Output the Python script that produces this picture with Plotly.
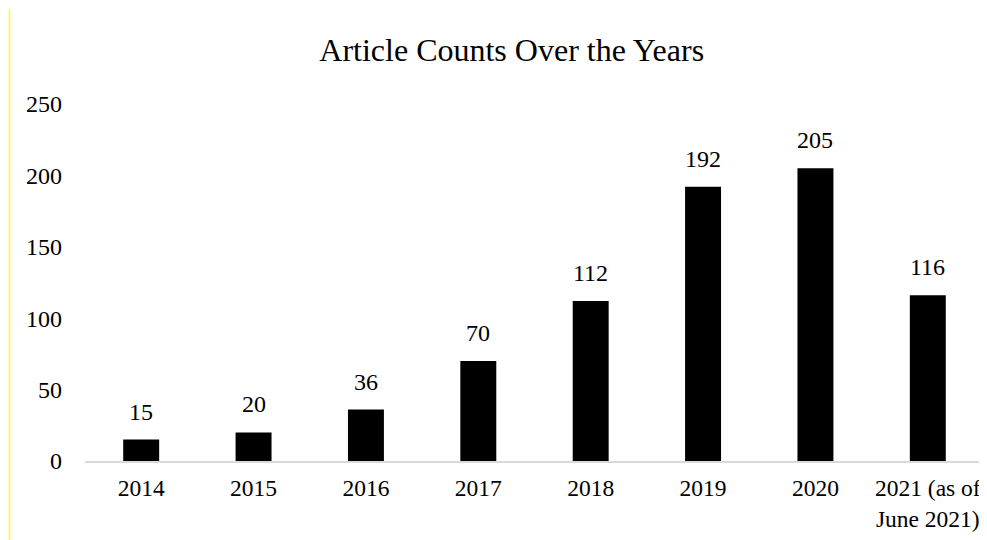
import plotly.graph_objects as go

categories = ["2014", "2015", "2016", "2017", "2018", "2019", "2020", "2021 (as of<br>June 2021)"]
counts = [15, 20, 36, 70, 112, 192, 205, 116]
y_ticks = [0, 50, 100, 150, 200, 250]

W, H = 979, 532
ML, MR, MT, MB = 77, 3, 96, 79
FONT = "Liberation Serif, Times New Roman, serif"

fig = go.Figure()
fig.add_trace(go.Bar(
    x=categories, y=counts,
    marker=dict(color="black", line=dict(width=0)),
    hoverinfo="x+y",
))

for i, v in enumerate(counts):
    fig.add_annotation(x=i, y=v, text=str(v), showarrow=False,
                       yanchor="bottom", yshift=13,
                       font=dict(family=FONT, size=24, color="black"))

plot_w = W - ML - MR
plot_h = H - MT - MB
fig.add_shape(type="line", xref="paper", yref="paper",
              x0=(1.5 - ML) / plot_w, x1=(1.5 - ML) / plot_w,
              y0=-MB / plot_h, y1=1 + (MT - 1) / plot_h,
              line=dict(color="#ffff00", width=1.5))

fig.update_layout(
    width=W, height=H,
    margin=dict(l=ML, r=MR, t=MT, b=MB, autoexpand=False),
    paper_bgcolor="white", plot_bgcolor="white",
    bargap=0.68,
    showlegend=False,
    font=dict(family=FONT, size=23, color="black"),
    title=dict(text="Article Counts Over the Years", x=0.5145, xanchor="center",
               y=1 - 42 / H, yanchor="middle",
               font=dict(family=FONT, size=32, color="black")),
    xaxis=dict(type="category", range=[-0.5, len(categories) - 0.5],
               showline=True, linecolor="#d9d9d9", linewidth=1.5,
               showgrid=False, ticks="", tickfont=dict(size=23.5),
               ticklabelstandoff=5, automargin=False, fixedrange=True),
    yaxis=dict(range=[0, 250], tickvals=y_ticks, showgrid=False,
               zeroline=False, showline=False, ticks="",
               ticklabelstandoff=22, tickfont=dict(size=24),
               automargin=False, fixedrange=True),
)

fig.write_html("out.html")
